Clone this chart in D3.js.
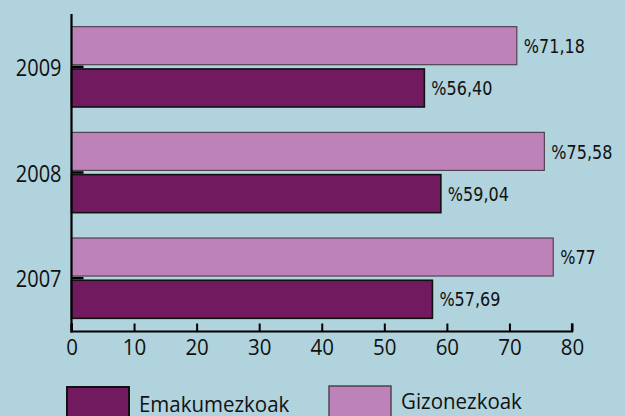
<!DOCTYPE html>
<html>
<head>
<meta charset="utf-8">
<script src="https://cdn.jsdelivr.net/npm/d3@7"></script>
<style>
  body { margin: 0; background: #b0d3dd; }
  svg { display: block; }
</style>
</head>
<body>
<svg id="chart" width="625" height="416"></svg>
<script>
const years = ['2009', '2008', '2007'];
const series = ['Gizonezkoak', 'Emakumezkoak'];
const gizonezkoak = [71.18, 75.58, 77];
const emakumezkoak = [56.40, 59.04, 57.69];
const valueLabels = {
  Gizonezkoak: ['%71,18', '%75,58', '%77'],
  Emakumezkoak: ['%56,40', '%59,04', '%57,69']
};
const xTicks = [0, 10, 20, 30, 40, 50, 60, 70, 80];
const legendOrder = ['Emakumezkoak', 'Gizonezkoak'];

const colors = { Gizonezkoak: '#bd82b8', Emakumezkoak: '#721a60' };
const strokes = { Gizonezkoak: '#4a3a48', Emakumezkoak: '#111' };

const rows = years.map((y, i) => ({
  year: y,
  Gizonezkoak: gizonezkoak[i],
  Emakumezkoak: emakumezkoak[i],
  i: i
}));

// the original text is drawn taller than it is wide
const stretch = (sel, sy) => sel.each(function() {
  const t = d3.select(this);
  const y = +t.attr('y') || 0;
  t.attr('y', y / sy).attr('transform', `scale(1, ${sy})`);
});

const svg = d3.select('#chart');

const xScale = d3.scaleLinear().domain([0, 80]).range([71.5, 572]);
const yScale = d3.scaleBand().domain(years).range([14, 331]).paddingInner(0.24).paddingOuter(0.12);
const subScale = d3.scaleBand().domain(series).range([0, yScale.bandwidth()]).paddingInner(0.1);

const groups = svg.selectAll('g.year')
  .data(rows)
  .join('g')
  .attr('class', 'year')
  .attr('transform', d => `translate(0, ${yScale(d.year)})`);

groups.selectAll('rect')
  .data(d => series.map(s => ({ key: s, value: d[s], i: d.i })))
  .join('rect')
    .attr('x', xScale(0))
    .attr('y', d => subScale(d.key))
    .attr('width', d => xScale(d.value) - xScale(0))
    .attr('height', subScale.bandwidth())
    .attr('fill', d => colors[d.key])
    .attr('stroke', d => strokes[d.key])
    .attr('stroke-width', d => d.key === 'Emakumezkoak' ? 1.6 : 1.1);

groups.selectAll('text.val')
  .data(d => series.map(s => ({ key: s, value: d[s], i: d.i })))
  .join('text')
    .attr('class', 'val')
    .attr('x', d => xScale(d.value) + 7)
    .attr('y', d => subScale(d.key) + subScale.bandwidth() / 2)
    .attr('dy', '0.36em')
    .attr('font-family', '"DejaVu Sans", sans-serif')
    .attr('font-size', 16)
    .attr('fill', '#111')
    .text(d => valueLabels[d.key][d.i])
    .call(stretch, 1.25);

// x axis
const xAxis = svg.append('g')
  .attr('transform', `translate(0, 331.5)`)
  .call(d3.axisBottom(xScale).tickValues(xTicks).tickSize(-8).tickPadding(7));
xAxis.select('.domain').attr('stroke', '#000').attr('stroke-width', 2.2)
  .attr('d', `M${xScale(0)},-8V0H${xScale(80)}V-8`);
xAxis.selectAll('.tick line').attr('stroke', '#000').attr('stroke-width', 2);
xAxis.selectAll('.tick text')
  .attr('font-family', '"Open Sans", sans-serif')
  .attr('font-size', 20.5)
  .attr('fill', '#111')
  .call(stretch, 1.1);

// y axis
const yAxis = svg.append('g')
  .attr('transform', `translate(${xScale(0)}, 0)`)
  .call(d3.axisLeft(yScale).tickSize(-12).tickPadding(10));
yAxis.select('.domain').attr('stroke', '#000').attr('stroke-width', 2.2)
  .attr('d', 'M0,14V332.5');
yAxis.selectAll('.tick line').attr('stroke', '#000').attr('stroke-width', 2.5);
yAxis.selectAll('.tick text')
  .attr('font-family', '"Open Sans", sans-serif')
  .attr('font-size', 20)
  .attr('dy', '0.38em')
  .attr('fill', '#111')
  .call(stretch, 1.2);

// legend
const legendX = d3.scaleOrdinal().domain(legendOrder).range([67, 329]);
const legendY = d3.scaleOrdinal().domain(legendOrder).range([387, 386]);
const legend = svg.selectAll('g.legend')
  .data(legendOrder)
  .join('g')
  .attr('class', 'legend')
  .attr('transform', d => `translate(${legendX(d)}, ${legendY(d)})`);
legend.append('rect')
  .attr('width', 62)
  .attr('height', 40)
  .attr('fill', d => colors[d])
  .attr('stroke', d => strokes[d])
  .attr('stroke-width', d => d === 'Emakumezkoak' ? 2 : 1.4);
legend.append('text')
  .attr('x', 72)
  .attr('y', d => d === 'Emakumezkoak' ? 25 : 23)
  .attr('font-family', '"Open Sans", sans-serif')
  .attr('font-size', 20.5)
  .attr('fill', '#111')
  .text(d => d)
  .call(stretch, 1.05);
</script>
</body>
</html>
